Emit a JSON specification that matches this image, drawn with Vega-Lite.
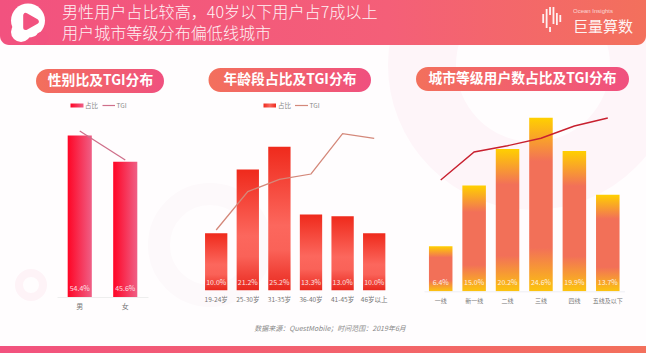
{
"$schema":"https://vega.github.io/schema/vega-lite/v6.json",
"width":646,"height":353,"padding":0,"autosize":{"type":"none"},"background":"#fffdfe",
"config":{"view":{"stroke":null},"text":{"font":"Noto Sans CJK SC"},"axis":{"labelFont":"Noto Sans CJK SC"}},
"data":{"values":[{"part":"chrome"}]},
"datasets":{
"gender":[{"cat":"男","share":54.4,"tgi":108},{"cat":"女","share":45.6,"tgi":92}],
"age":[{"cat":"19-24岁","share":10.0,"tgi":67.8},{"cat":"25-30岁","share":21.2,"tgi":91.8},{"cat":"31-35岁","share":25.2,"tgi":99.5},{"cat":"36-40岁","share":13.3,"tgi":102.8},{"cat":"41-45岁","share":13.0,"tgi":128},{"cat":"46岁以上","share":10.0,"tgi":125.1}],
"city":[{"cat":"一线","share":6.4,"tgi":71.4},{"cat":"新一线","share":15.0,"tgi":94.8},{"cat":"二线","share":20.2,"tgi":100},{"cat":"三线","share":24.6,"tgi":106.2},{"cat":"四线","share":19.9,"tgi":116.4},{"cat":"五线及以下","share":13.7,"tgi":123.1}],
"logo":[{"i":0,"a":14,"b":23},{"i":1,"a":9,"b":28},{"i":2,"a":7,"b":15},{"i":2,"a":27,"b":32},{"i":3,"a":7,"b":24},{"i":4,"a":13,"b":25},{"i":5,"a":15,"b":22}]
},
"resolve":{"scale":{"x":"independent","y":"independent"},"axis":{"x":"independent","y":"independent"}},
"layer":[
{"mark":{"type":"point","filled":false,"stroke":"#fef5f9","strokeWidth":68,"opacity":1,"clip":true},"encoding":{"x":{"value":533},"y":{"value":65},"size":{"value":49284}}},
{"mark":{"type":"point","filled":false,"stroke":"#fdf9fb","strokeWidth":22,"opacity":1},"encoding":{"x":{"value":210},"y":{"value":245},"size":{"value":10404}}},
{"mark":{"type":"point","filled":false,"stroke":"#fef3f7","strokeWidth":8,"opacity":1},"encoding":{"x":{"value":31},"y":{"value":285},"size":{"value":576}}},

{"mark":{"type":"rect","cornerRadiusBottomLeft":9,"cornerRadiusBottomRight":9,"color":{"gradient":"linear","x1":0,"x2":1,"y1":0,"y2":0,"stops":[{"offset":0,"color":"#f2527f"},{"offset":0.6,"color":"#f45f78"},{"offset":1,"color":"#f3705c"}]}},"encoding":{"x":{"value":0},"x2":{"value":646},"y":{"value":0},"y2":{"value":45}}},
{"mark":{"type":"rect","color":{"gradient":"linear","x1":0,"x2":1,"y1":0,"y2":0,"stops":[{"offset":0,"color":"#f2527f"},{"offset":1,"color":"#f3705c"}]}},"encoding":{"x":{"value":0},"x2":{"value":646},"y":{"value":346},"y2":{"value":353}}},

{"mark":{"type":"point","filled":true,"fill":"#ffffff","stroke":null,"opacity":1},"encoding":{"x":{"value":28},"y":{"value":20.5},"size":{"value":1156}}},
{"mark":{"type":"point","filled":true,"fill":"#ffffff","stroke":null,"opacity":1},"encoding":{"x":{"value":21},"y":{"value":32},"size":{"value":400}}},
{"mark":{"type":"point","filled":true,"fill":"#f2527f","stroke":null,"opacity":1},"encoding":{"x":{"value":42},"y":{"value":38},"size":{"value":160}}},
{"mark":{"type":"point","shape":"triangle-right","filled":true,"fill":"#f2527f","stroke":"#f2527f","strokeWidth":5,"strokeJoin":"round","opacity":1},"encoding":{"x":{"value":31},"y":{"value":21.5},"size":{"value":150}}},

{"mark":{"type":"text","align":"left","baseline":"middle","fontSize":16.1,"fontWeight":300,"color":"#ffffff","opacity":0.92},"encoding":{"x":{"value":62},"y":{"value":12.6},"text":{"value":"男性用户占比较高，40岁以下用户占7成以上"}}},
{"mark":{"type":"text","align":"left","baseline":"middle","fontSize":16.1,"fontWeight":300,"color":"#ffffff","opacity":0.92},"encoding":{"x":{"value":62},"y":{"value":34.4},"text":{"value":"用户城市等级分布偏低线城市"}}},

{"data":{"name":"logo"},"mark":{"type":"rule","color":"#ffffff","strokeWidth":1.8,"opacity":0.9},"encoding":{"x":{"field":"i","type":"ordinal","scale":{"type":"point","range":[541.5,562]},"axis":null},"y":{"field":"a","type":"quantitative","scale":{"domain":[0,353],"range":[0,353]},"axis":null},"y2":{"field":"b"}}},
{"mark":{"type":"text","align":"left","baseline":"middle","fontSize":6,"font":"Liberation Sans","color":"#ffffff","opacity":0.7},"encoding":{"x":{"value":573},"y":{"value":11},"text":{"value":"Ocean Insights"}}},
{"mark":{"type":"text","align":"left","baseline":"middle","fontSize":15,"color":"#ffffff","opacity":0.92},"encoding":{"x":{"value":573},"y":{"value":27},"text":{"value":"巨量算数"}}},

{"mark":{"type":"rect","cornerRadius":12,"color":{"gradient":"linear","x1":0,"x2":1,"y1":0,"y2":0,"stops":[{"offset":0,"color":"#f3705c"},{"offset":1,"color":"#f0507f"}]}},"encoding":{"x":{"value":36},"x2":{"value":164},"y":{"value":69},"y2":{"value":93}}},
{"mark":{"type":"rect","cornerRadius":12,"color":{"gradient":"linear","x1":0,"x2":1,"y1":0,"y2":0,"stops":[{"offset":0,"color":"#f3705c"},{"offset":1,"color":"#f0507f"}]}},"encoding":{"x":{"value":208.5},"x2":{"value":371},"y":{"value":68},"y2":{"value":92}}},
{"mark":{"type":"rect","cornerRadius":12,"color":{"gradient":"linear","x1":0,"x2":1,"y1":0,"y2":0,"stops":[{"offset":0,"color":"#f3705c"},{"offset":1,"color":"#f0507f"}]}},"encoding":{"x":{"value":416},"x2":{"value":629},"y":{"value":67},"y2":{"value":91}}},
{"mark":{"type":"text","align":"center","baseline":"middle","fontSize":13.8,"fontWeight":"bold","color":"#ffffff"},"encoding":{"x":{"value":100.5},"y":{"value":80.5},"text":{"value":"性别比及TGI分布"}}},
{"mark":{"type":"text","align":"center","baseline":"middle","fontSize":13.8,"fontWeight":"bold","color":"#ffffff"},"encoding":{"x":{"value":290},"y":{"value":79.5},"text":{"value":"年龄段占比及TGI分布"}}},
{"mark":{"type":"text","align":"center","baseline":"middle","fontSize":13.8,"fontWeight":"bold","color":"#ffffff"},"encoding":{"x":{"value":522.5},"y":{"value":78.5},"text":{"value":"城市等级用户数占比及TGI分布"}}},

{"mark":{"type":"rect","color":{"gradient":"linear","x1":0,"x2":1,"y1":0,"y2":0,"stops":[{"offset":0,"color":"#ff0525"},{"offset":1,"color":"#ef5f86"}]}},"encoding":{"x":{"value":70.5},"x2":{"value":83.5},"y":{"value":103.5},"y2":{"value":107.5}}},
{"mark":{"type":"text","align":"left","baseline":"middle","fontSize":6.5,"color":"#888888"},"encoding":{"x":{"value":85},"y":{"value":105.5},"text":{"value":"占比"}}},
{"mark":{"type":"rule","color":"#cf6f8a","strokeWidth":1.2},"encoding":{"x":{"value":102.5},"x2":{"value":115},"y":{"value":105.5}}},
{"mark":{"type":"text","align":"left","baseline":"middle","fontSize":6.5,"color":"#888888"},"encoding":{"x":{"value":116.5},"y":{"value":105.5},"text":{"value":"TGI"}}},
{"mark":{"type":"rect","color":{"gradient":"linear","x1":0,"x2":1,"y1":0,"y2":0,"stops":[{"offset":0,"color":"#ee2a1e"},{"offset":0.5,"color":"#fa655b"},{"offset":1,"color":"#ee2a1e"}]}},"encoding":{"x":{"value":263.5},"x2":{"value":276},"y":{"value":103.5},"y2":{"value":107.5}}},
{"mark":{"type":"text","align":"left","baseline":"middle","fontSize":6.5,"color":"#888888"},"encoding":{"x":{"value":278},"y":{"value":105.5},"text":{"value":"占比"}}},
{"mark":{"type":"rule","color":"#d4887a","strokeWidth":1.2},"encoding":{"x":{"value":295},"x2":{"value":308},"y":{"value":105.5}}},
{"mark":{"type":"text","align":"left","baseline":"middle","fontSize":6.5,"color":"#888888"},"encoding":{"x":{"value":309.5},"y":{"value":105.5},"text":{"value":"TGI"}}},

{"data":{"name":"gender"},"mark":{"type":"bar","color":{"gradient":"linear","x1":0,"x2":1,"y1":0,"y2":0,"stops":[{"offset":0,"color":"#ff0525"},{"offset":1,"color":"#ef5f86"}]}},"encoding":{"x":{"field":"cat","type":"nominal","sort":null,"scale":{"range":[57,148],"paddingInner":0.47,"paddingOuter":0.235},"axis":{"title":null,"orient":"bottom","offset":-56,"zindex":1,"labelAngle":0,"labelFontSize":7,"labelColor":"#777777","labelPadding":5,"ticks":false,"domainColor":"#eeeeee","grid":false}},"y":{"field":"share","type":"quantitative","scale":{"domain":[0,60],"range":[297,119]},"axis":null}}},
{"data":{"name":"gender"},"mark":{"type":"line","color":"#cf6f8a","strokeWidth":1.3},"encoding":{"x":{"field":"cat","type":"nominal","sort":null,"scale":{"range":[57,148],"paddingInner":0.47,"paddingOuter":0.235},"axis":null},"y":{"field":"tgi","type":"quantitative","scale":{"domain":[80,120],"range":[181.75,109.25]},"axis":null}}},
{"data":{"name":"gender"},"transform":[{"calculate":"format(datum.share,'.1f')+'%'","as":"label"}],"mark":{"type":"text","baseline":"middle","dy":-8,"fontSize":7,"color":"#ffffff","opacity":0.85},"encoding":{"x":{"field":"cat","type":"nominal","sort":null,"scale":{"range":[57,148],"paddingInner":0.47,"paddingOuter":0.235},"axis":null},"y":{"datum":0,"type":"quantitative","scale":{"domain":[0,60],"range":[297,119]},"axis":null},"text":{"field":"label"}}},

{"data":{"name":"age"},"mark":{"type":"bar","color":{"gradient":"linear","x1":0,"x2":0,"y1":0,"y2":1,"stops":[{"offset":0,"color":"#ef2a1c"},{"offset":0.55,"color":"#fc675d"},{"offset":0.72,"color":"#fa6258"},{"offset":1,"color":"#e9281e"}]}},"encoding":{"x":{"field":"cat","type":"nominal","sort":null,"scale":{"range":[200.4,390],"paddingInner":0.294,"paddingOuter":0.147},"axis":{"title":null,"orient":"bottom","offset":-62.7,"zindex":1,"labelAngle":0,"labelFontSize":6.5,"labelColor":"#777777","labelPadding":6,"ticks":false,"domain":false,"grid":false}},"y":{"field":"share","type":"quantitative","scale":{"domain":[0,30],"range":[290.3,119.3]},"axis":null}}},
{"data":{"name":"age"},"mark":{"type":"line","color":"#d4887a","strokeWidth":1.3},"encoding":{"x":{"field":"cat","type":"nominal","sort":null,"scale":{"range":[200.4,390],"paddingInner":0.294,"paddingOuter":0.147},"axis":null},"y":{"field":"tgi","type":"quantitative","scale":{"domain":[60,130],"range":[242.5,130.5]},"axis":null}}},
{"data":{"name":"age"},"transform":[{"calculate":"format(datum.share,'.1f')+'%'","as":"label"}],"mark":{"type":"text","baseline":"middle","dy":-7.6,"fontSize":7,"color":"#ffffff","opacity":0.85},"encoding":{"x":{"field":"cat","type":"nominal","sort":null,"scale":{"range":[200.4,390],"paddingInner":0.294,"paddingOuter":0.147},"axis":null},"y":{"datum":0,"type":"quantitative","scale":{"domain":[0,30],"range":[290.3,119.3]},"axis":null},"text":{"field":"label"}}},

{"data":{"name":"city"},"mark":{"type":"bar","color":{"gradient":"linear","x1":0,"x2":0,"y1":0,"y2":1,"stops":[{"offset":0,"color":"#ffd000"},{"offset":0.25,"color":"#f27058"},{"offset":0.75,"color":"#f27058"},{"offset":1,"color":"#fcc40e"}]}},"encoding":{"x":{"field":"cat","type":"nominal","sort":null,"scale":{"range":[424,624.5],"paddingInner":0.296,"paddingOuter":0.148},"axis":{"title":null,"orient":"bottom","offset":-61.7,"zindex":1,"labelAngle":0,"labelFontSize":6,"labelColor":"#777777","labelPadding":6,"ticks":false,"domainColor":"#eeeef4","grid":false}},"y":{"field":"share","type":"quantitative","scale":{"domain":[0,30],"range":[291.3,79.8]},"axis":null}}},
{"data":{"name":"city"},"mark":{"type":"line","color":"#c8202f","strokeWidth":1.4},"encoding":{"x":{"field":"cat","type":"nominal","sort":null,"scale":{"range":[424,624.5],"paddingInner":0.296,"paddingOuter":0.148},"axis":null},"y":{"field":"tgi","type":"quantitative","scale":{"domain":[60,130],"range":[193.7,109.7]},"axis":null}}},
{"data":{"name":"city"},"transform":[{"calculate":"format(datum.share,'.1f')+'%'","as":"label"}],"mark":{"type":"text","baseline":"middle","dy":-8,"fontSize":7,"color":"#ffffff","opacity":0.85},"encoding":{"x":{"field":"cat","type":"nominal","sort":null,"scale":{"range":[424,624.5],"paddingInner":0.296,"paddingOuter":0.148},"axis":null},"y":{"datum":0,"type":"quantitative","scale":{"domain":[0,30],"range":[291.3,79.8]},"axis":null},"text":{"field":"label"}}},

{"mark":{"type":"text","align":"center","baseline":"middle","fontSize":7,"fontStyle":"italic","color":"#888888"},"encoding":{"x":{"value":330},"y":{"value":328.5},"text":{"value":"数据来源：QuestMobile；时间范围：2019年6月"}}}
]
}
